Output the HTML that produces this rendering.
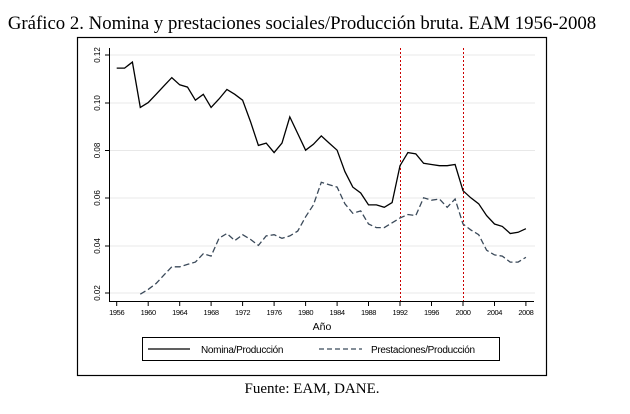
<!DOCTYPE html>
<html><head><style>body{margin:0;background:#fff}svg{display:block}</style></head><body>
<svg width="630" height="414" xmlns="http://www.w3.org/2000/svg">
<text x="302" y="29" text-anchor="middle" font-family="Liberation Serif, serif" font-size="18.8" fill="#000">Gráfico 2. Nomina y prestaciones sociales/Producción bruta. EAM 1956-2008</text>
<rect x="77.5" y="37.5" width="469" height="338" fill="none" stroke="#000" stroke-width="1.2"/>
<g stroke="#e8e8e8" stroke-width="1">
<line x1="110" x2="535" y1="55" y2="55"/><line x1="110" x2="535" y1="103" y2="103"/><line x1="110" x2="535" y1="150.5" y2="150.5"/><line x1="110" x2="535" y1="198" y2="198"/><line x1="110" x2="535" y1="246" y2="246"/><line x1="110" x2="535" y1="293" y2="293"/>
</g>
<line x1="109.5" y1="48" x2="109.5" y2="301.5" stroke="#000"/>
<line x1="109" y1="301.5" x2="534" y2="301.5" stroke="#000"/>
<g stroke="#000"><line x1="105" x2="109" y1="55" y2="55"/><line x1="105" x2="109" y1="103" y2="103"/><line x1="105" x2="109" y1="150.5" y2="150.5"/><line x1="105" x2="109" y1="198" y2="198"/><line x1="105" x2="109" y1="246" y2="246"/><line x1="105" x2="109" y1="293" y2="293"/></g>
<g font-family="Liberation Sans, sans-serif" font-size="8" fill="#000" text-anchor="middle">
<text transform="translate(100,55) rotate(-90)">0.12</text>
<text transform="translate(100,103) rotate(-90)">0.10</text>
<text transform="translate(100,150.5) rotate(-90)">0.08</text>
<text transform="translate(100,198) rotate(-90)">0.06</text>
<text transform="translate(100,246) rotate(-90)">0.04</text>
<text transform="translate(100,293) rotate(-90)">0.02</text>
</g>
<g id="xt" font-family="Liberation Sans, sans-serif" font-size="7.5" fill="#000" text-anchor="middle" letter-spacing="-0.4"></g>
<line x1="400.5" y1="48" x2="400.5" y2="301" stroke="#c00" stroke-dasharray="2,2"/>
<line x1="463.5" y1="48" x2="463.5" y2="301" stroke="#c00" stroke-dasharray="2,2"/>
<polyline id="p1" fill="none" stroke="#000" stroke-width="1.3"/>
<polyline id="p2" fill="none" stroke="#3b4a5a" stroke-width="1.3" stroke-dasharray="6,3"/>
<text x="322" y="330" text-anchor="middle" font-family="Liberation Sans, sans-serif" font-size="10.5">Año</text>
<rect x="142.5" y="337.5" width="357" height="23" fill="none" stroke="#000"/>
<line x1="148" y1="349" x2="190" y2="349" stroke="#000" stroke-width="1.2"/>
<text x="201" y="353" font-family="Liberation Sans, sans-serif" font-size="10" letter-spacing="-0.3">Nomina/Producción</text>
<line x1="319" y1="349" x2="362" y2="349" stroke="#3b4a5a" stroke-width="1.2" stroke-dasharray="5,3"/>
<text x="371" y="353" font-family="Liberation Sans, sans-serif" font-size="10" letter-spacing="-0.3">Prestaciones/Producción</text>
<text x="312" y="393" text-anchor="middle" font-family="Liberation Serif, serif" font-size="15">Fuente: EAM, DANE.</text>
</svg>
<script>
const X=y=>116.7+(y-1956)*7.87, Y=v=>293-(v-0.02)/0.02*47.6;
const n=[.1145,.1145,.117,.098,.1,.1035,.107,.1105,.1075,.1065,.101,.1035,.098,.1015,.1055,.1035,.101,.092,.082,.083,.079,.083,.094,.087,.080,.0825,.086,.083,.080,.071,.0645,.062,.057,.057,.056,.058,.0735,.079,.0785,.0745,.074,.0735,.0735,.074,.063,.060,.0575,.0525,.049,.048,.045,.0455,.047];
const p=[.0195,.0215,.024,.0275,.031,.031,.032,.033,.0365,.0355,.043,.045,.042,.0445,.0425,.040,.044,.0445,.043,.044,.046,.052,.057,.0665,.0655,.0645,.0575,.0535,.0545,.049,.0475,.0475,.0495,.0515,.053,.0525,.060,.059,.0595,.056,.0595,.049,.0465,.0445,.038,.036,.0355,.033,.033,.035];
document.getElementById('p1').setAttribute('points',n.map((v,i)=>X(1956+i).toFixed(1)+','+Y(v).toFixed(1)).join(' '));
document.getElementById('p2').setAttribute('points',p.map((v,i)=>X(1959+i).toFixed(1)+','+Y(v).toFixed(1)).join(' '));
let s='';for(let y=1956;y<=2008;y+=4){const x=X(y).toFixed(1);s+=`<line x1="${x}" x2="${x}" y1="302" y2="306" stroke="#000"/><text x="${x}" y="315">${y}</text>`;}
document.getElementById('xt').innerHTML=s;
</script>
</body></html>
